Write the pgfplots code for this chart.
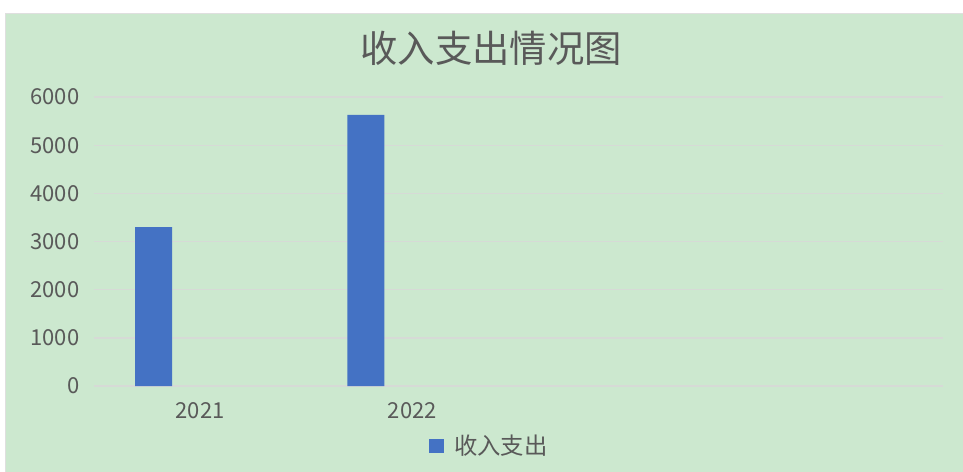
\documentclass[border=0pt]{standalone}
\usepackage{pgfplots}
\pgfplotsset{compat=1.18}
\usepackage{fontspec}
\setmainfont{Noto Sans CJK SC}
\definecolor{bg}{RGB}{204,232,207}
\definecolor{barblue}{RGB}{68,114,196}
\definecolor{txt}{RGB}{89,89,89}
\definecolor{gridc}{RGB}{214,218,214}
\begin{document}
\begin{tikzpicture}[x=0.75pt,y=0.75pt]
\path[use as bounding box] (0,0) rectangle (963,471);
\fill[white] (0,0) rectangle (963,471);
\fill[bg, draw=gray!25] (5,-1) rectangle (964,458);
\node[txt, font=\fontsize{28}{32}\selectfont] at (491,423) {收入支出情况图};
\begin{axis}[
  at={(70.5pt,63.75pt)}, anchor=south west,
  scale only axis, width=636.75pt, height=216.75pt,
  xmin=-0.5, xmax=3.5, ymin=0, ymax=6000,
  ytick={0,1000,...,6000}, xtick={0,1}, xticklabels={2021,2022},
  axis line style={draw=none}, major tick length=0pt,
  ymajorgrids, grid style={gridc, line width=1pt},
  ybar, bar width=0.174, bar shift=-0.219,
  tick label style={txt, font=\fontsize{16.5}{18}\selectfont},
  /pgf/number format/assume math mode=true,
  scaled y ticks=false,
  yticklabel style={/pgf/number format/1000 sep={}, xshift=-7.5pt},
  xticklabel style={yshift=-9pt},
  legend style={at={(0.466,-0.2076)}, anchor=center, draw=none, fill=none,
    font=\fontsize{17.5}{20}\selectfont, text=txt},
  legend image code/.code={\fill[#1] (0pt,-5.6pt) rectangle (11.25pt,5.6pt); \path (17pt,0pt);},
]
\addplot[fill=barblue, draw=none] coordinates {(0,3300) (1,5630)};
\addlegendentry{收入支出}
\end{axis}
\end{tikzpicture}
\end{document}
